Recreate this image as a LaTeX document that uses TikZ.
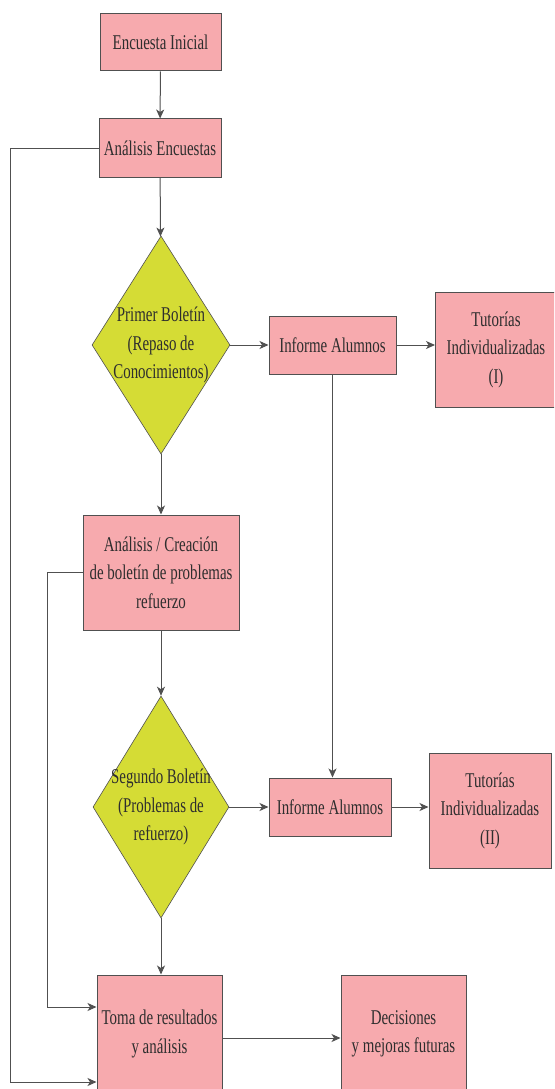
\documentclass[tikz,border=0pt]{standalone}
\usepackage{fontspec}
\setmainfont{Liberation Serif}[FakeStretch=0.71]
\usetikzlibrary{shapes.geometric,arrows.meta}
\definecolor{boxpink}{HTML}{F7AAAE}
\definecolor{diagreen}{HTML}{D5DC35}
\definecolor{edgegray}{HTML}{505050}
\definecolor{txtgray}{HTML}{2E2E2E}
\tikzset{
  box/.style={draw=edgegray, line width=1pt, fill=boxpink, inner sep=0pt, align=center, text=txtgray, font=\fontsize{21}{28.5}\selectfont},
  dia/.style={diamond, draw=edgegray, line width=0.6pt, fill=diagreen, inner sep=0pt, minimum width=138pt, minimum height=218pt},
  diatext/.style={align=center, text=txtgray, font=\fontsize{21}{28.5}\selectfont},
  conn/.style={draw=edgegray, line width=1pt},
  arr/.style={conn, -{Stealth[length=9pt,width=8pt,inset=2.5pt]}}
}
\begin{document}
\begin{tikzpicture}[x=1pt,y=-1pt]
\useasboundingbox (0,0) rectangle (554,1089);
\clip (0,0) rectangle (554,1089);
\node[box, minimum width=121pt, minimum height=57pt] (e1) at (160.5,42.5) {Encuesta Inicial};
\node[box, minimum width=122pt, minimum height=58pt] (e2) at (160,148) {Análisis Encuestas};
\node[dia] (d1) at (161,345) {};
\node[diatext] (d1t) at (161,345) {Primer Boletín\\(Repaso de\\Conocimientos)};
\node[box, minimum width=127pt, minimum height=58pt] (i1) at (332.5,345) {Informe Alumnos};
\node[box, minimum width=121pt, minimum height=115pt] (t1) at (496,349.5) {Tutorías\\Individualizadas\\(I)};
\node[box, minimum width=156pt, minimum height=115pt] (a3) at (161,572.5) {Análisis / Creación\\de boletín de problemas\\refuerzo};
\node[dia, minimum height=222pt, minimum width=136pt] (d2) at (161,807) {};
\node[diatext] (d2t) at (161,807) {Segundo Boletín\\(Problemas de\\refuerzo)};
\node[box, minimum width=122pt, minimum height=58pt] (i2) at (330,807) {Informe Alumnos};
\node[box, minimum width=122pt, minimum height=115pt] (t2) at (490,810.5) {Tutorías\\Individualizadas\\(II)};
\node[box, minimum width=125pt, minimum height=130pt, text depth=17pt] (tm) at (159.5,1040) {Toma de resultados\\y análisis};
\node[box, minimum width=125pt, minimum height=130pt, text depth=17pt] (dc) at (403.5,1040) {Decisiones\\y mejoras futuras};
\coordinate (L1) at (10,1082);
\coordinate (L2) at (47,1007);
\coordinate (R1) at (222,1038);
\draw[arr] (e1) -- (e2);
\draw[arr] (e2) -- (d1);
\draw[arr] (d1.east) -- (i1.west);
\draw[arr] (i1.east) -- (i1.east -| t1.west);
\draw[arr] (d1.south) -- (a3.north);
\draw[arr] (a3.south) -- (d2.north);
\draw[arr] (d2.east) -- (i2.west);
\draw[arr] (i2.east) -- (i2.east -| t2.west);
\draw[arr] (i1.south) -- (i1.south |- i2.north);
\draw[arr] (d2.south) -- (d2.south |- tm.north);
\draw[arr] (e2.west) -| (L1) -- (L1 -| tm.west);
\draw[arr] (a3.west) -| (L2) -- (L2 -| tm.west);
\draw[arr] (R1) -- (R1 -| dc.west);
\end{tikzpicture}
\end{document}
